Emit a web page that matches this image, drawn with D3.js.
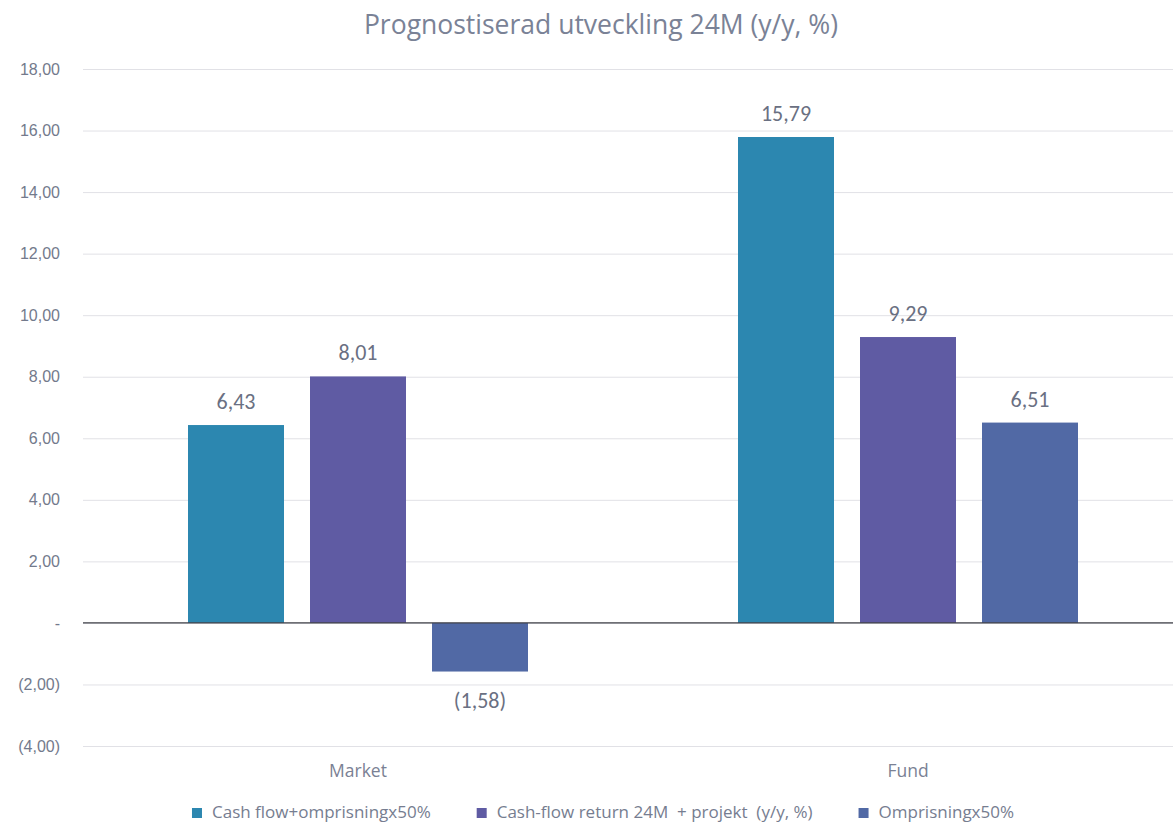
<!DOCTYPE html>
<html>
<head>
<meta charset="utf-8">
<script src="https://cdn.jsdelivr.net/npm/d3@7"></script>
<style>
  body { margin: 0; background: #fff; }
  svg { display: block; font-family: Carlito, Lato, "Open Sans", sans-serif; }
  .os { font-family: "Open Sans", sans-serif; }
</style>
</head>
<body>
<div id="chart"></div>
<script>
var w = 1173;
var h = 825;

var categories = ['Market', 'Fund'];
var seriesNames = ['Cash flow+omprisningx50%', 'Cash-flow return 24M  + projekt  (y/y, %)', 'Omprisningx50%'];
var seriesColors = ['#2C87B0', '#5F5BA3', '#5169A5'];
var cashFlowOmpr = [6.43, 15.79];
var cashFlowReturn = [8.01, 9.29];
var omprisning = [-1.58, 6.51];
var yTicks = [-4, -2, 0, 2, 4, 6, 8, 10, 12, 14, 16, 18];

var seriesValues = [cashFlowOmpr, cashFlowReturn, omprisning];

function fmt(v) {
    if (v == 0) return '-';
    var s = Math.abs(v).toFixed(2).replace('.', ',');
    return v < 0 ? '(' + s + ')' : s;
}

var svg = d3.select('#chart')
    .append('svg')
    .attr('width', w)
    .attr('height', h);

var x0 = d3.scaleBand().domain(categories).range([83, 1183]).padding(0);
var x1 = d3.scaleBand().domain(seriesNames).range([0, 340]).paddingInner(26 / 122).paddingOuter(0);
var groupOffset = (x0.bandwidth() - 340) / 2;
var y = d3.scaleLinear().domain([-4, 18]).range([746, 69]);

// title
svg.append('text')
    .attr('class', 'os')
    .attr('x', 601)
    .attr('y', 34)
    .attr('text-anchor', 'middle')
    .attr('fill', '#7A8296')
    .style('font-size', '26.5px')
    .text('Prognostiserad utveckling 24M (y/y, %)');

// grid
var yAxis = d3.axisLeft(y).tickValues(yTicks).tickFormat(fmt).tickSize(-(w - 83)).tickPadding(23);
var ga = svg.append('g').attr('transform', 'translate(83,0)').call(yAxis);
ga.select('.domain').remove();
ga.selectAll('.tick line').attr('stroke', '#E1E1E6').attr('stroke-width', 1);
ga.selectAll('.tick text')
    .attr('fill', '#737A8C')
    .style('font-size', '16px')
    .attr('x', -23)
    .attr('text-anchor', 'end');

// bars
var rows = [];
seriesNames.forEach(function(s, si) {
    categories.forEach(function(c, ci) {
        rows.push({ series: s, cat: c, value: seriesValues[si][ci], color: seriesColors[si] });
    });
});

svg.append('g').selectAll('rect')
    .data(rows)
    .enter()
    .append('rect')
    .attr('x', function(d) { return x0(d.cat) + groupOffset + x1(d.series); })
    .attr('y', function(d) { return y(Math.max(0, d.value)); })
    .attr('width', x1.bandwidth())
    .attr('height', function(d) { return Math.abs(y(d.value) - y(0)); })
    .attr('fill', function(d) { return d.color; });

// zero line
svg.append('line')
    .attr('x1', 83).attr('x2', w)
    .attr('y1', y(0)).attr('y2', y(0))
    .attr('stroke', '#3F4147')
    .attr('stroke-width', 1.3);

// data labels
svg.append('g').selectAll('text')
    .data(rows)
    .enter()
    .append('text')
    .attr('x', function(d) { return x0(d.cat) + groupOffset + x1(d.series) + x1.bandwidth() / 2; })
    .attr('y', function(d) { return d.value >= 0 ? y(d.value) - 16 : y(d.value) + 36; })
    .attr('text-anchor', 'middle')
    .attr('fill', '#6A7082')
    .style('font-size', '22px')
    .text(function(d) { return fmt(d.value); });

// category labels
svg.append('g').selectAll('text')
    .data(categories)
    .enter()
    .append('text')
    .attr('class', 'os')
    .attr('x', function(d) { return x0(d) + x0.bandwidth() / 2; })
    .attr('y', 777)
    .attr('text-anchor', 'middle')
    .attr('fill', '#7A8194')
    .style('font-size', '17.5px')
    .text(function(d) { return d; });

// legend
var legend = svg.append('g');
var items = legend.selectAll('g')
    .data(seriesNames)
    .enter()
    .append('g');
items.append('rect')
    .attr('width', 10).attr('height', 10)
    .attr('y', 808)
    .attr('fill', function(d, i) { return seriesColors[i]; });
items.append('text')
    .attr('class', 'os')
    .attr('x', 20)
    .attr('y', 818)
    .attr('fill', '#767D90')
    .style('font-size', '17px')
    .style('white-space', 'pre')
    .text(function(d) { return d; });

var pos = 0;
var offsets = [];
items.each(function() {
    offsets.push(pos);
    pos += this.getBBox().width + 46;
});
var total = pos - 46;
var start = 603 - total / 2;
items.attr('transform', function(d, i) { return 'translate(' + (start + offsets[i]) + ',0)'; });
</script>
</body>
</html>
